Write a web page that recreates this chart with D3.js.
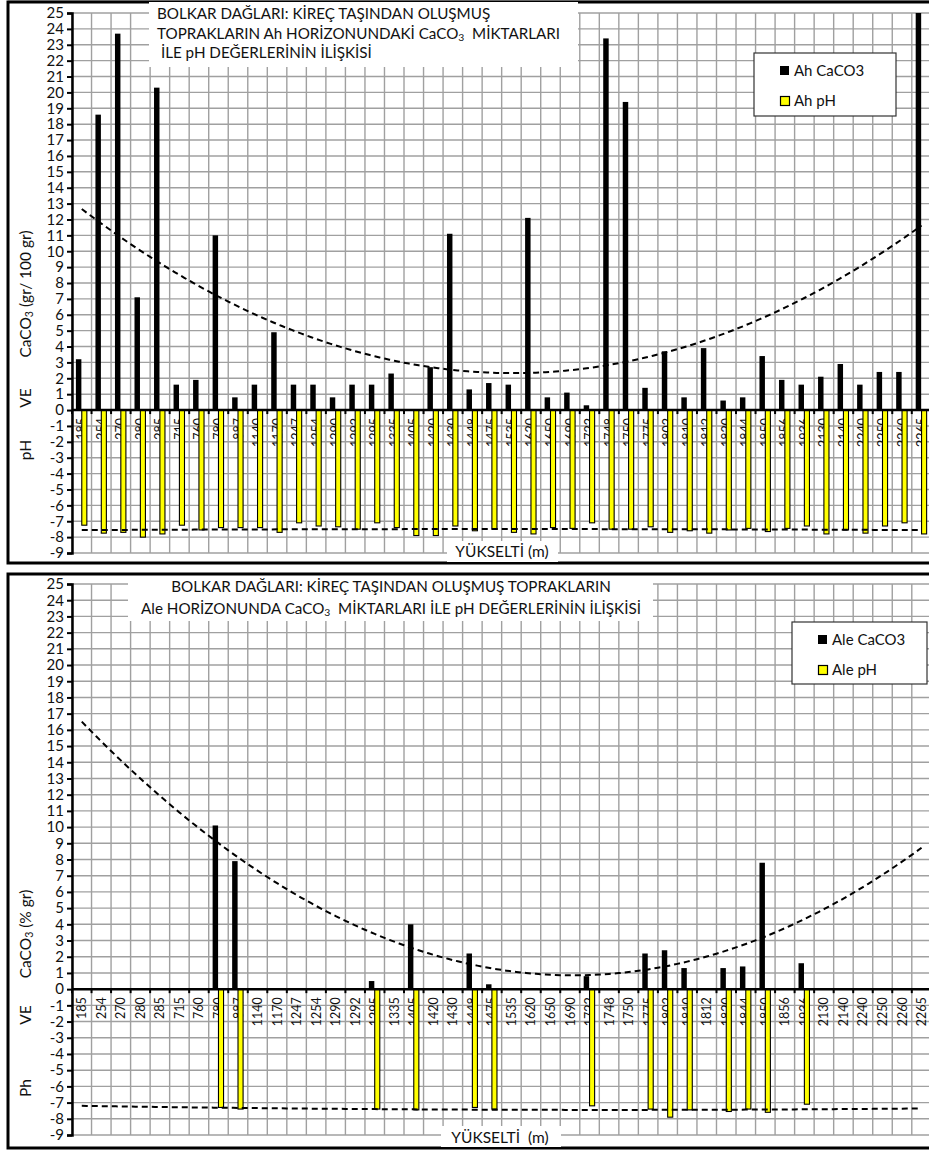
<!DOCTYPE html>
<html lang="tr">
<head>
<meta charset="UTF-8">
<script src="https://d3js.org/d3.v7.min.js"></script>
<title>Bolkar</title>
<style>
  body { margin: 0; background: #fff; }
  svg { display: block; font-family: Lato, "Noto Sans", sans-serif; }
  text { white-space: pre; }
</style>
</head>
<body>
<div id="app"></div>
<script>
const svg_width = 929;
const svg_height = 1150;

// x categories (YÜKSELTİ m)
const categories = ["185", "254", "270", "280", "285", "715", "760", "780", "887", "1140",
    "1170", "1247", "1254", "1290", "1292", "1295", "1335", "1405", "1420", "1430",
    "1448", "1475", "1535", "1620", "1650", "1690", "1722", "1748", "1750", "1775",
    "1802", "1810", "1812", "1820", "1844", "1850", "1856", "1936", "2130", "2140",
    "2240", "2250", "2260", "2265"];

// Ah horizon (last bar runs off the top of the axis)
const ahCaco3 = [3.2, 18.6, 23.7, 7.1, 20.3, 1.6, 1.9, 11.0, 0.8, 1.6,
    4.9, 1.6, 1.6, 0.8, 1.6, 1.6, 2.3, 0, 2.7, 11.1,
    1.3, 1.7, 1.6, 12.1, 0.8, 1.1, 0.3, 23.4, 19.4, 1.4,
    3.7, 0.8, 3.9, 0.6, 0.8, 3.4, 1.9, 1.6, 2.1, 2.9,
    1.6, 2.4, 2.4, 44];
const ahPh = [7.25, 7.75, 7.7, 8.0, 7.8, 7.25, 7.55, 7.4, 7.4, 7.4,
    7.7, 7.1, 7.3, 7.35, 7.5, 7.1, 7.4, 7.9, 7.9, 7.3,
    7.6, 7.5, 7.7, 7.8, 7.4, 7.45, 7.1, 7.5, 7.5, 7.35,
    7.7, 7.6, 7.75, 7.55, 7.45, 7.65, 7.45, 7.3, 7.8, 7.55,
    7.75, 7.3, 7.1, 7.8];

// Ale horizon (null = no sample)
const aleCaco3 = [null, null, null, null, null, null, null, 10.1, 7.9, null,
    null, null, null, null, null, 0.5, null, 4.0, null, null,
    2.2, 0.3, null, null, null, null, 0.8, null, null, 2.2,
    2.4, 1.3, null, 1.3, 1.4, 7.8, null, 1.6, null, null,
    null, null, null, null];
const alePh = [null, null, null, null, null, null, null, 7.3, 7.4, null,
    null, null, null, null, null, 7.4, null, 7.45, null, null,
    7.3, 7.4, null, null, null, null, 7.2, null, null, 7.4,
    7.9, 7.45, null, 7.55, 7.4, 7.6, null, 7.1, null, null,
    null, null, null, null];

const yTicks = d3.range(-9, 26);

var svg = d3.select('#app')
    .append('svg')
    .attr('width', svg_width)
    .attr('height', svg_height)

// least squares parabola on category index (1..n), blanks skipped
function polyFit(values) {
    var pts = []
    values.forEach(function (v, i) { if (v != null) pts.push([i + 1, v]) })
    var s = [0, 0, 0, 0, 0], t = [0, 0, 0]
    pts.forEach(function (p) {
        for (let k = 0; k < 5; k++) s[k] += Math.pow(p[0], k)
        for (let k = 0; k < 3; k++) t[k] += p[1] * Math.pow(p[0], k)
    })
    var m = [[s[0], s[1], s[2], t[0]], [s[1], s[2], s[3], t[1]], [s[2], s[3], s[4], t[2]]]
    for (let i = 0; i < 3; i++) {
        for (let j = i + 1; j < 3; j++) {
            var f = m[j][i] / m[i][i]
            for (let k = i; k < 4; k++) m[j][k] -= f * m[i][k]
        }
    }
    var c = [0, 0, 0]
    for (let i = 2; i >= 0; i--) {
        var sum = m[i][3]
        for (let k = i + 1; k < 3; k++) sum -= m[i][k] * c[k]
        c[i] = sum / m[i][i]
    }
    return function (xv) { return c[0] + c[1] * xv + c[2] * xv * xv }
}

function caco3Text(sel, parts) {
    // parts: text before, after the subscript 3
    sel.append('tspan').text(parts[0] + 'CaCO')
    sel.append('tspan').attr('font-size', '0.68em').attr('dy', 2).text('3')
    sel.append('tspan').attr('dy', -2).text(parts[1])
}

function drawChart(o) {
    var g = svg.append('g')

    var x = d3.scaleBand()
        .domain(categories)
        .range([72, 72 + categories.length * 19.53])
    var y = d3.scaleLinear()
        .domain([-9, 25])
        .range([o.bottom, o.top])
    var bw = x.bandwidth()
    var right = x.range()[1]

    // frame
    g.append('rect')
        .attr('x', 8).attr('y', o.frameTop)
        .attr('width', 940).attr('height', o.frameBottom - o.frameTop)
        .attr('fill', 'none').attr('stroke', '#000').attr('stroke-width', 3)

    // grid
    g.selectAll('.hgrid').data(yTicks).enter().append('line')
        .attr('x1', 72).attr('x2', right)
        .attr('y1', d => y(d)).attr('y2', d => y(d))
        .attr('stroke', '#a0a0a0').attr('stroke-width', 1.4)
    g.selectAll('.vgrid').data(categories.concat(['end'])).enter().append('line')
        .attr('x1', (d, i) => 72 + i * bw).attr('x2', (d, i) => 72 + i * bw)
        .attr('y1', y(25)).attr('y2', y(-9))
        .attr('stroke', '#a0a0a0').attr('stroke-width', 1.4)

    // title box
    g.append('rect')
        .attr('x', o.titleBox[0]).attr('y', o.titleBox[1])
        .attr('width', o.titleBox[2]).attr('height', o.titleBox[3])
        .attr('fill', '#fff')
    o.title.forEach(function (line) {
        var t = g.append('text')
            .attr('x', line.x).attr('y', line.y)
            .attr('font-size', 15.2)
            .attr('text-anchor', line.anchor || 'start')
            .attr('fill', '#111')
        if (line.sub) caco3Text(t, line.sub)
        else t.text(line.text)
    })

    // category labels (under the bars)
    g.selectAll('.cat').data(categories).enter().append('text')
        .attr('transform', d => 'translate(' + (x(d) + bw / 2 + 4.5) + ',' + (y(0) + 8) + ') rotate(-90)')
        .attr('text-anchor', 'end')
        .attr('font-size', 12.5)
        .attr('fill', '#111')
        .text(d => d)

    var clip = 'clip' + o.id
    svg.append('clipPath').attr('id', clip).append('rect')
        .attr('x', 72).attr('y', y(25)).attr('width', right - 72).attr('height', y(-9) - y(25))

    var bars = g.append('g').attr('clip-path', 'url(#' + clip + ')')
    categories.forEach(function (c, i) {
        var v = o.caco3[i]
        if (v != null && v > 0) {
            bars.append('rect')
                .attr('x', x(c) + bw * 0.2)
                .attr('y', y(v))
                .attr('width', bw * 0.28)
                .attr('height', y(0) - y(v))
                .attr('fill', '#000')
        }
        var p = o.ph[i]
        if (p != null) {
            bars.append('rect')
                .attr('x', x(c) + bw * 0.5)
                .attr('y', y(0))
                .attr('width', bw * 0.26)
                .attr('height', y(-p) - y(0))
                .attr('fill', '#ffff00')
                .attr('stroke', '#000')
                .attr('stroke-width', 1.1)
        }
    })

    // trendlines
    var fitC = polyFit(o.caco3)
    var fitP = polyFit(o.ph.map(v => v == null ? null : -v))
    var line = d3.line()
        .x(d => x(categories[0]) + bw / 2 + (d - 1) * bw)
    var xs = d3.range(1, categories.length + 0.01, 0.25)
    g.append('path')
        .attr('clip-path', 'url(#' + clip + ')')
        .attr('d', line.y(d => y(fitC(d)))(xs))
        .attr('fill', 'none').attr('stroke', '#000').attr('stroke-width', 2)
        .attr('stroke-dasharray', '6,4')
    g.append('path')
        .attr('d', line.y(d => y(fitP(d)))(xs))
        .attr('fill', 'none').attr('stroke', '#000').attr('stroke-width', 2)
        .attr('stroke-dasharray', '6,4')

    // axes
    g.append('line')
        .attr('x1', 72).attr('x2', right).attr('y1', y(0)).attr('y2', y(0))
        .attr('stroke', '#000').attr('stroke-width', 2.5)
    g.selectAll('.xt').data(categories.concat(['end'])).enter().append('line')
        .attr('x1', (d, i) => 72 + i * bw).attr('x2', (d, i) => 72 + i * bw)
        .attr('y1', y(0)).attr('y2', y(0) + 4)
        .attr('stroke', '#000').attr('stroke-width', 2)
    var yAxis = d3.axisLeft(y)
        .tickValues(yTicks)
        .tickFormat(d => String(d))
        .tickSize(5)
        .tickPadding(3)
    var ya = g.append('g').attr('transform', 'translate(72,0)').call(yAxis)
    ya.select('.domain').attr('stroke-width', 2.5)
    ya.selectAll('.tick line').attr('stroke-width', 2)
    ya.selectAll('.tick text').attr('font-size', 15).attr('font-family', 'Lato, sans-serif').attr('fill', '#111')

    // y axis titles
    o.yTitles.forEach(function (tt) {
        var t = g.append('text')
            .attr('transform', 'translate(31,' + tt.y + ') rotate(-90)')
            .attr('text-anchor', 'middle')
            .attr('font-size', 15.5)
            .attr('fill', '#111')
        if (tt.sub) caco3Text(t, tt.sub)
        else t.text(tt.text)
    })

    // x axis title
    g.append('rect')
        .attr('x', o.xTitleBox[0]).attr('y', o.xTitleBox[1])
        .attr('width', o.xTitleBox[2]).attr('height', o.xTitleBox[3])
        .attr('fill', '#fff')
    g.append('text')
        .attr('x', o.xTitleX).attr('y', o.xTitleY)
        .attr('text-anchor', 'middle')
        .attr('font-size', 15.5)
        .attr('fill', '#111')
        .text(o.xTitle)

    // legend
    var L = o.legend
    g.append('rect')
        .attr('x', L.x).attr('y', L.y).attr('width', L.w).attr('height', L.h)
        .attr('fill', '#fff').attr('stroke', '#333').attr('stroke-width', 1.2)
    g.append('rect')
        .attr('x', L.x + 26).attr('y', L.y + 13).attr('width', 9).attr('height', 9)
        .attr('fill', '#000')
    g.append('rect')
        .attr('x', L.x + 26.5).attr('y', L.y + 43.5).attr('width', 9).attr('height', 9)
        .attr('fill', '#ffff00').attr('stroke', '#000').attr('stroke-width', 1.2)
    g.append('text').attr('x', L.x + 40).attr('y', L.y + 23)
        .attr('font-size', 15).attr('fill', '#111').text(L.names[0])
    g.append('text').attr('x', L.x + 40).attr('y', L.y + 53)
        .attr('font-size', 15).attr('fill', '#111').text(L.names[1])
}

// thin light line at the very top
svg.append('line').attr('x1', 8).attr('x2', 929).attr('y1', 0.5).attr('y2', 0.5)
    .attr('stroke', '#ccc').attr('stroke-width', 1)

drawChart({
    id: 1,
    top: 13, bottom: 553,
    frameTop: 2, frameBottom: 563,
    caco3: ahCaco3, ph: ahPh,
    titleBox: [149, 2, 429, 65],
    title: [
        { x: 157, y: 19, text: 'BOLKAR DAĞLARI: KİREÇ TAŞINDAN OLUŞMUŞ' },
        { x: 157, y: 38.5, sub: ['TOPRAKLARIN Ah HORİZONUNDAKİ ', '  MİKTARLARI'] },
        { x: 157, y: 58, text: ' İLE pH DEĞERLERİNİN İLİŞKİSİ' }
    ],
    yTitles: [
        { y: 294, sub: ['', ' (gr/ 100 gr)'] },
        { y: 398, text: 'VE' },
        { y: 450, text: 'pH' }
    ],
    xTitle: 'YÜKSELTİ (m)', xTitleX: 502, xTitleY: 557,
    xTitleBox: [447, 541, 111, 21],
    legend: { x: 754, y: 53, w: 142, h: 63, names: ['Ah CaCO3', 'Ah pH'] }
})

drawChart({
    id: 2,
    top: 584, bottom: 1135,
    frameTop: 574, frameBottom: 1148,
    caco3: aleCaco3, ph: alePh,
    titleBox: [128, 576, 525, 45],
    title: [
        { x: 391, y: 592, anchor: 'middle', text: 'BOLKAR DAĞLARI: KİREÇ TAŞINDAN OLUŞMUŞ TOPRAKLARIN' },
        { x: 391, y: 614, anchor: 'middle', sub: ['Ale HORİZONUNDA ', '  MİKTARLARI İLE pH DEĞERLERİNİN İLİŞKİSİ'] }
    ],
    yTitles: [
        { y: 934, sub: ['', ' (% gr)'] },
        { y: 1015, text: 'VE' },
        { y: 1088, text: 'Ph' }
    ],
    xTitle: 'YÜKSELTİ  (m)', xTitleX: 500, xTitleY: 1143,
    xTitleBox: [441, 1126, 120, 21],
    legend: { x: 792, y: 622, w: 135, h: 62, names: ['Ale CaCO3', 'Ale pH'] }
})
</script>
</body>
</html>
